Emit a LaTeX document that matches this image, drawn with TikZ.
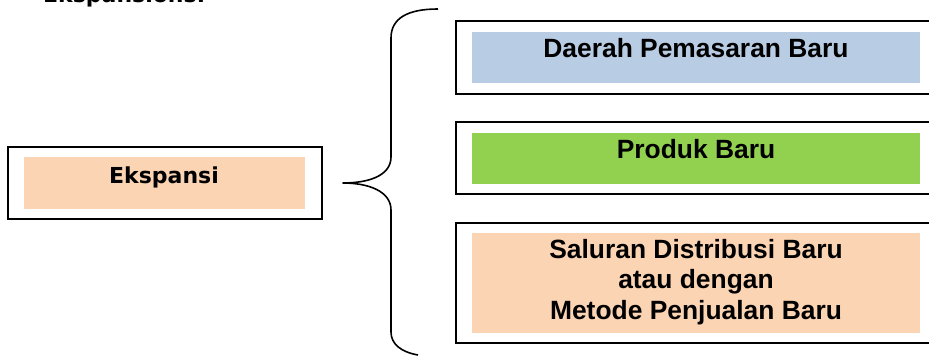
\documentclass[tikz,border=0pt]{standalone}
\usepackage{fontspec}
\setmainfont{Liberation Sans}
\newfontfamily\verdfont{DejaVu Sans}
\definecolor{fillblue}{HTML}{B8CCE4}
\definecolor{fillgreen}{HTML}{92D050}
\definecolor{fillpeach}{HTML}{FBD4B4}
\begin{document}
\begin{tikzpicture}[x=1pt,y=-1pt,
  frame/.style={draw=black,line width=1.5pt},
  band/.style={draw=none},
  itemtext/.style={font=\fontsize{26.4}{30.5}\selectfont\bfseries,inner sep=0pt,align=center},
  headtext/.style={font=\verdfont\fontsize{22}{26}\selectfont\bfseries,inner sep=0pt},
  bracket/.style={draw=black,line width=1.6pt,line join=round}]
\useasboundingbox (0,0) rectangle (929,356);
\begin{scope}
\clip (0,0) rectangle (929,356);
% heading, only its lower edge falls inside the page
\node[headtext,anchor=base west] (head) at (43,2) {Ekspansions:};

% left box
\draw[frame] (8,147) rectangle (322,219);
\fill[fillpeach] (24,157) rectangle (305,209);
\node[headtext,anchor=base] (eks) at (164,183) {Ekspansi};

% right boxes
\draw[frame] (456,21) rectangle (940,94);
\fill[fillblue] (472,32) rectangle (920,83);
\node[itemtext,anchor=base] (daerah) at (696,57) {Daerah Pemasaran Baru};

\draw[frame] (456,122) rectangle (940,194);
\fill[fillgreen] (472,133) rectangle (920,184);
\node[itemtext,anchor=base] (produk) at (696,158) {Produk Baru};

\draw[frame] (456,223) rectangle (940,343);
\fill[fillpeach] (472,233) rectangle (920,333);
\node[itemtext,anchor=center] (saluran) at (696,282) {Saluran Distribusi Baru\\atau dengan\\Metode Penjualan Baru};

% curly bracket joining the left box to the three options
\coordinate (tip) at (343,183);
\coordinate (btop) at (438,9);
\coordinate (bbot) at (418,355);
\draw[bracket] (btop) .. controls (408,9) and (391,18) .. (391,38)
  -- (391,157) .. controls (391,176) and (368,183) .. (tip)
  .. controls (368,183) and (391,191) .. (391,210)
  -- (391,332) .. controls (391,344) and (401,352) .. (bbot);
\end{scope}
\end{tikzpicture}
\end{document}
